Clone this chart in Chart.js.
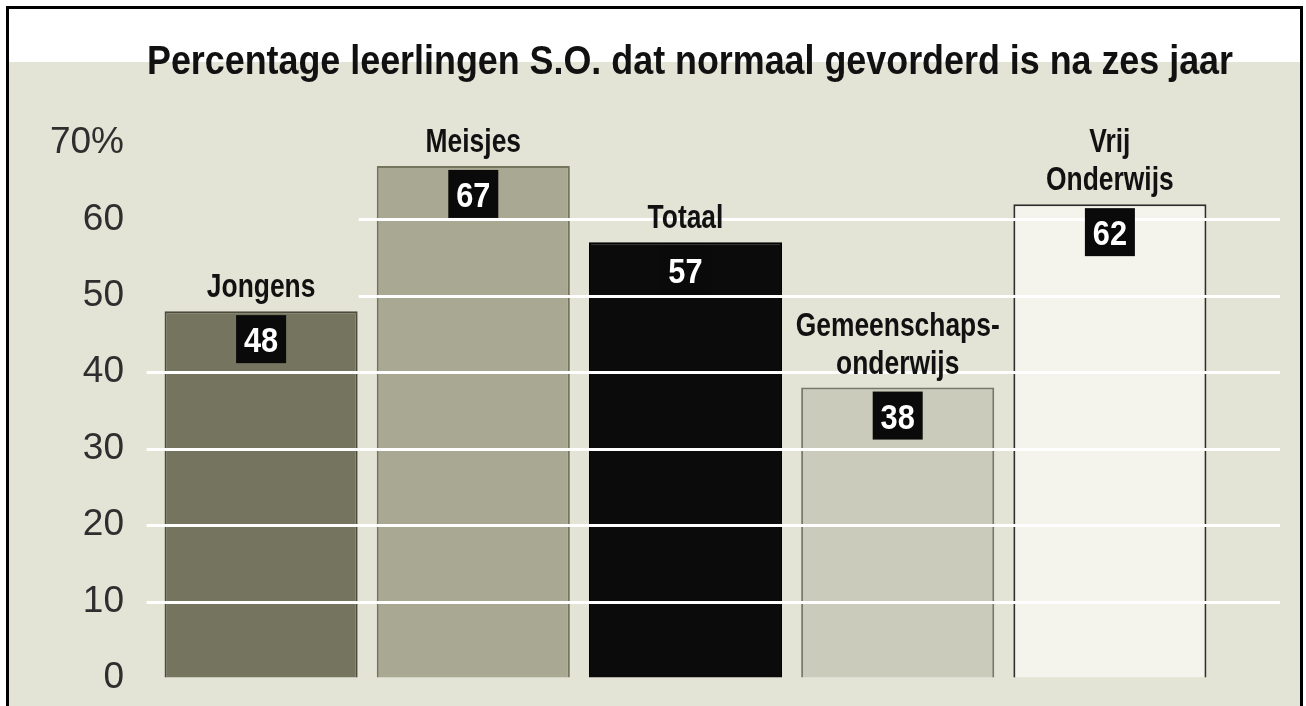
<!DOCTYPE html>
<html>
<head>
<meta charset="utf-8">
<script src="https://cdn.jsdelivr.net/npm/chart.js@4.4.1/dist/chart.umd.min.js"></script>
<style>
  html, body { margin: 0; padding: 0; background: #fff; }
  #wrap { width: 1306px; height: 706px; }
</style>
</head>
<body>
<div id="wrap"><canvas id="chart" width="1306" height="706"></canvas></div>
<script>
const chartTitle = "Percentage leerlingen S.O. dat normaal gevorderd is na zes jaar";
const categories = ["Jongens", "Meisjes", "Totaal", "Gemeenschapsonderwijs", "Vrij Onderwijs"];
const labelLines = [["Jongens"], ["Meisjes"], ["Totaal"], ["Gemeenschaps-", "onderwijs"], ["Vrij", "Onderwijs"]];
const values = [48, 67, 57, 38, 62];
const yTicks = [0, 10, 20, 30, 40, 50, 60, 70];

const barColors = ["#75745e", "#a9a892", "#0b0b0b", "#cbcbbb", "#f4f4ed"];
const edgeColors = ["#4c4b3b", "#75745f", "#000000", "#77776a", "#2e2e2e"];
const boldFont = "'Liberation Sans', Arial, sans-serif";

// smalle letter: gewone vette letter horizontaal samengedrukt
function narrowText(c, text, x, y, size, squeeze) {
  c.save();
  c.font = "bold " + size + "px " + boldFont;
  c.translate(x, y);
  c.scale(squeeze, 1);
  c.fillText(text, 0, 0);
  c.restore();
}

// papier, kader en titel
const paper = {
  id: 'paper',
  beforeDraw(chart) {
    const c = chart.ctx;
    c.save();
    c.fillStyle = '#ffffff';
    c.fillRect(0, 0, chart.width, chart.height);
    c.fillStyle = '#e3e3d6';
    c.fillRect(9, 62, 1291, chart.height - 62);
    c.fillStyle = '#000';
    c.fillRect(6, 6, 3, chart.height - 6);
    c.fillRect(6, 6, 1297, 3);
    c.fillRect(1300, 6, 3, chart.height - 6);
    c.restore();
  },
  afterDraw(chart) {
    const c = chart.ctx;
    c.save();
    c.font = "bold 40px " + boldFont;
    const w = c.measureText(chartTitle).width;
    c.fillStyle = '#111';
    c.textAlign = 'center';
    c.textBaseline = 'alphabetic';
    narrowText(c, chartTitle, 690, 74, 40, 1086 / w);
    c.restore();
  }
};

// witte rasterlijnen over de staven, daarna labels en waardeblokjes
const overlay = {
  id: 'overlay',
  afterDatasetsDraw(chart) {
    const c = chart.ctx;
    const y = chart.scales.y;
    const bars = chart.getDatasetMeta(0).data;
    c.save();
    c.strokeStyle = '#ffffff';
    c.lineWidth = 3;
    yTicks.forEach(t => {
      if (t === 0 || t === 70) return;
      const first = values.findIndex(v => v >= t);
      if (first < 0) return;
      const b = bars[first];
      const py = Math.round(y.getPixelForValue(t)) + 0.5;
      c.beginPath();
      c.moveTo(b.x - b.width / 2 - 18, py);
      c.lineTo(chart.chartArea.right + 64, py);
      c.stroke();
    });

    c.textAlign = 'center';
    bars.forEach((b, i) => {
      const top = b.y;
      // waardeblokje
      c.fillStyle = '#0a0a0a';
      c.fillRect(b.x - 25, top + 4, 50, 48);
      c.fillStyle = '#ffffff';
      c.textBaseline = 'alphabetic';
      narrowText(c, String(values[i]), b.x, top + 41, 35, 0.88);

      // categorienaam boven de staaf
      const lines = labelLines[i];
      c.fillStyle = '#111';
      lines.forEach((ln, k) => {
        const base = top - 14 - (lines.length - 1 - k) * 38;
        narrowText(c, ln, b.x, base, 33, 0.8);
      });
    });
    c.restore();
  }
};

const ctx = document.getElementById('chart');

new Chart(ctx, {
  type: 'bar',
  data: {
    labels: categories,
    datasets: [{
      data: values,
      backgroundColor: barColors,
      borderColor: edgeColors,
      borderWidth: { top: 2, left: 2, right: 2, bottom: 0 },
      borderSkipped: 'bottom',
      barPercentage: 0.91,
      categoryPercentage: 1
    }]
  },
  options: {
    responsive: false,
    animation: false,
    layout: { padding: { top: 143, right: 90, bottom: 28, left: 0 } },
    plugins: {
      legend: { display: false },
      tooltip: { enabled: false },
      title: { display: false }
    },
    scales: {
      x: { display: false },
      y: {
        min: 0,
        max: 70,
        afterFit: s => { s.width = 155; },
        afterBuildTicks: s => { s.ticks = yTicks.map(v => ({ value: v })); },
        grid: { color: 'transparent', drawOnChartArea: false, drawTicks: true, tickLength: 31 },
        border: { display: false },
        ticks: {
          padding: 0,
          color: '#2e2e2e',
          font: { family: "'Liberation Sans', 'DejaVu Sans', sans-serif", size: 37 },
          callback: v => v === 70 ? '70%' : v
        }
      }
    }
  },
  plugins: [paper, overlay]
});
</script>
</body>
</html>
